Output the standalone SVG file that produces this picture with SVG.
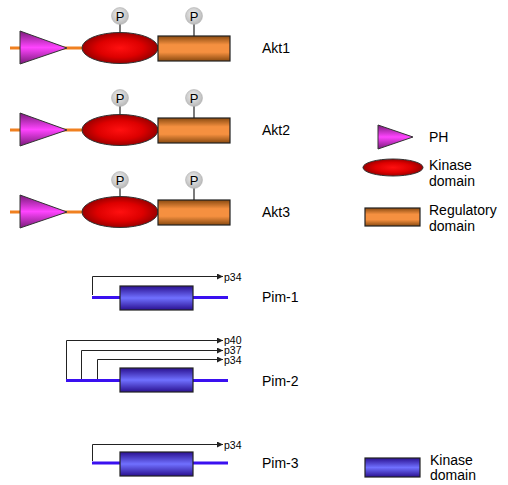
<svg xmlns="http://www.w3.org/2000/svg" width="508" height="485" viewBox="0 0 508 485">
<style>
text{font-family:"Liberation Sans",Arial,sans-serif;fill:#000}
.lbl{font-size:14px}
.leg{font-size:14px}
.p{font-size:10.5px}
.pt{font-size:13px;text-anchor:middle}
.ph{fill:url(#gPH);stroke:#333;stroke-width:1}
.kin{fill:url(#gK);stroke:#333;stroke-width:1}
.reg{fill:url(#gR);stroke:#222;stroke-width:1.2}
.pim{fill:url(#gB);stroke:#222;stroke-width:1.2}
.ol{stroke:#f08020;stroke-width:3}
.bl{stroke:#3a10f0;stroke-width:3}
.st{stroke:#222;stroke-width:1.2}
.pc{fill:url(#gP);stroke:#aaa;stroke-width:0.5}
.ar{fill:none;stroke:#222;stroke-width:1;marker-end:url(#ah)}
</style>
<defs>
<linearGradient id="gPH" x1="0" y1="0" x2="0" y2="1"><stop offset="0" stop-color="#7a1a7a"/><stop offset="0.5" stop-color="#ff44ff"/><stop offset="1" stop-color="#7a1a7a"/></linearGradient>
<radialGradient id="gK" cx="0.5" cy="0.5" r="0.55"><stop offset="0" stop-color="#ff1010"/><stop offset="0.55" stop-color="#dd0000"/><stop offset="1" stop-color="#8a0000"/></radialGradient>
<linearGradient id="gR" x1="0" y1="0" x2="0" y2="1"><stop offset="0" stop-color="#8a4a10"/><stop offset="0.35" stop-color="#f59040"/><stop offset="0.65" stop-color="#f59040"/><stop offset="1" stop-color="#8a4a10"/></linearGradient>
<linearGradient id="gB" x1="0" y1="0" x2="0" y2="1"><stop offset="0" stop-color="#2a1090"/><stop offset="0.5" stop-color="#7070ff"/><stop offset="1" stop-color="#2a1090"/></linearGradient>
<radialGradient id="gP" cx="0.45" cy="0.4" r="0.6"><stop offset="0" stop-color="#f2f2f2"/><stop offset="1" stop-color="#b8b8b8"/></radialGradient>
<marker id="ah" viewBox="0 0 10 10" refX="10" refY="5" markerWidth="9" markerHeight="6" orient="auto" markerUnits="userSpaceOnUse"><path d="M0,0L10,5L0,10z" fill="#222"/></marker>
</defs>

<g id="akt1">
<line class="ol" x1="10" y1="48" x2="84" y2="48"/>
<line class="st" x1="120" y1="24" x2="120" y2="33"/>
<line class="st" x1="194" y1="24" x2="194" y2="36"/>
<polygon class="ph" points="20,31 67,48 20,64"/>
<ellipse class="kin" cx="120" cy="48" rx="38" ry="15.5"/>
<rect class="reg" x="158" y="36" width="72" height="25"/>
<circle class="pc" cx="120" cy="16" r="8.5"/><text class="pt" x="120" y="21">P</text>
<circle class="pc" cx="194" cy="16" r="8.5"/><text class="pt" x="194" y="21">P</text>
<text class="lbl" x="262" y="53">Akt1</text>
</g>

<g id="akt2" transform="translate(0,82)">
<line class="ol" x1="10" y1="48" x2="84" y2="48"/>
<line class="st" x1="120" y1="24" x2="120" y2="33"/>
<line class="st" x1="194" y1="24" x2="194" y2="36"/>
<polygon class="ph" points="20,31 67,48 20,64"/>
<ellipse class="kin" cx="120" cy="48" rx="38" ry="15.5"/>
<rect class="reg" x="158" y="36" width="72" height="25"/>
<circle class="pc" cx="120" cy="16" r="8.5"/><text class="pt" x="120" y="21">P</text>
<circle class="pc" cx="194" cy="16" r="8.5"/><text class="pt" x="194" y="21">P</text>
<text class="lbl" x="262" y="53">Akt2</text>
</g>

<g id="akt3" transform="translate(0,164)">
<line class="ol" x1="10" y1="48" x2="84" y2="48"/>
<line class="st" x1="120" y1="24" x2="120" y2="33"/>
<line class="st" x1="194" y1="24" x2="194" y2="36"/>
<polygon class="ph" points="20,31 67,48 20,64"/>
<ellipse class="kin" cx="120" cy="48" rx="38" ry="15.5"/>
<rect class="reg" x="158" y="36" width="72" height="25"/>
<circle class="pc" cx="120" cy="16" r="8.5"/><text class="pt" x="120" y="21">P</text>
<circle class="pc" cx="194" cy="16" r="8.5"/><text class="pt" x="194" y="21">P</text>
<text class="lbl" x="262" y="53">Akt3</text>
</g>

<g id="pim1">
<line class="bl" x1="92" y1="297.5" x2="228" y2="297.5"/>
<rect class="pim" x="120" y="286" width="73" height="24"/>
<text class="lbl" x="262" y="302">Pim-1</text>
</g>
<g id="pim2">
<line class="bl" x1="66" y1="380.5" x2="228" y2="380.5"/>
<rect class="pim" x="120" y="368" width="73" height="24"/>
<text class="lbl" x="262" y="386">Pim-2</text>
</g>
<g id="pim3">
<line class="bl" x1="92" y1="463" x2="228" y2="463"/>
<rect class="pim" x="120" y="452" width="73" height="24"/>
<text class="lbl" x="262" y="468">Pim-3</text>
</g>

<g id="connectors">
<path class="ar" d="M92.5,295V276.5H223"/>
<text class="p" x="224" y="280.5">p34</text>
<path class="ar" d="M66.5,379V340.5H223"/>
<text class="p" x="224" y="344">p40</text>
<path class="ar" d="M81.5,379V350.5H223"/>
<text class="p" x="224" y="354">p37</text>
<path class="ar" d="M97.5,379V359.5H223"/>
<text class="p" x="224" y="364">p34</text>
<path class="ar" d="M92.5,461V444.5H223"/>
<text class="p" x="224" y="448.5">p34</text>
</g>

<g id="legend-ph">
<polygon class="ph" points="378,125 413,137 378,149"/>
<text class="leg" x="429" y="142">PH</text>
</g>
<g id="legend-kinase">
<ellipse class="kin" cx="393" cy="167.5" rx="30" ry="8.5"/>
<text class="leg" x="429" y="170">Kinase</text>
<text class="leg" x="429" y="186">domain</text>
</g>
<g id="legend-reg">
<rect class="reg" x="365" y="208" width="55" height="18"/>
<text class="leg" x="429" y="215">Regulatory</text>
<text class="leg" x="429" y="231">domain</text>
</g>
<g id="legend-pim">
<rect class="pim" x="365" y="458" width="55" height="19"/>
<text class="leg" x="430" y="465">Kinase</text>
<text class="leg" x="430" y="480">domain</text>
</g>
</svg>
